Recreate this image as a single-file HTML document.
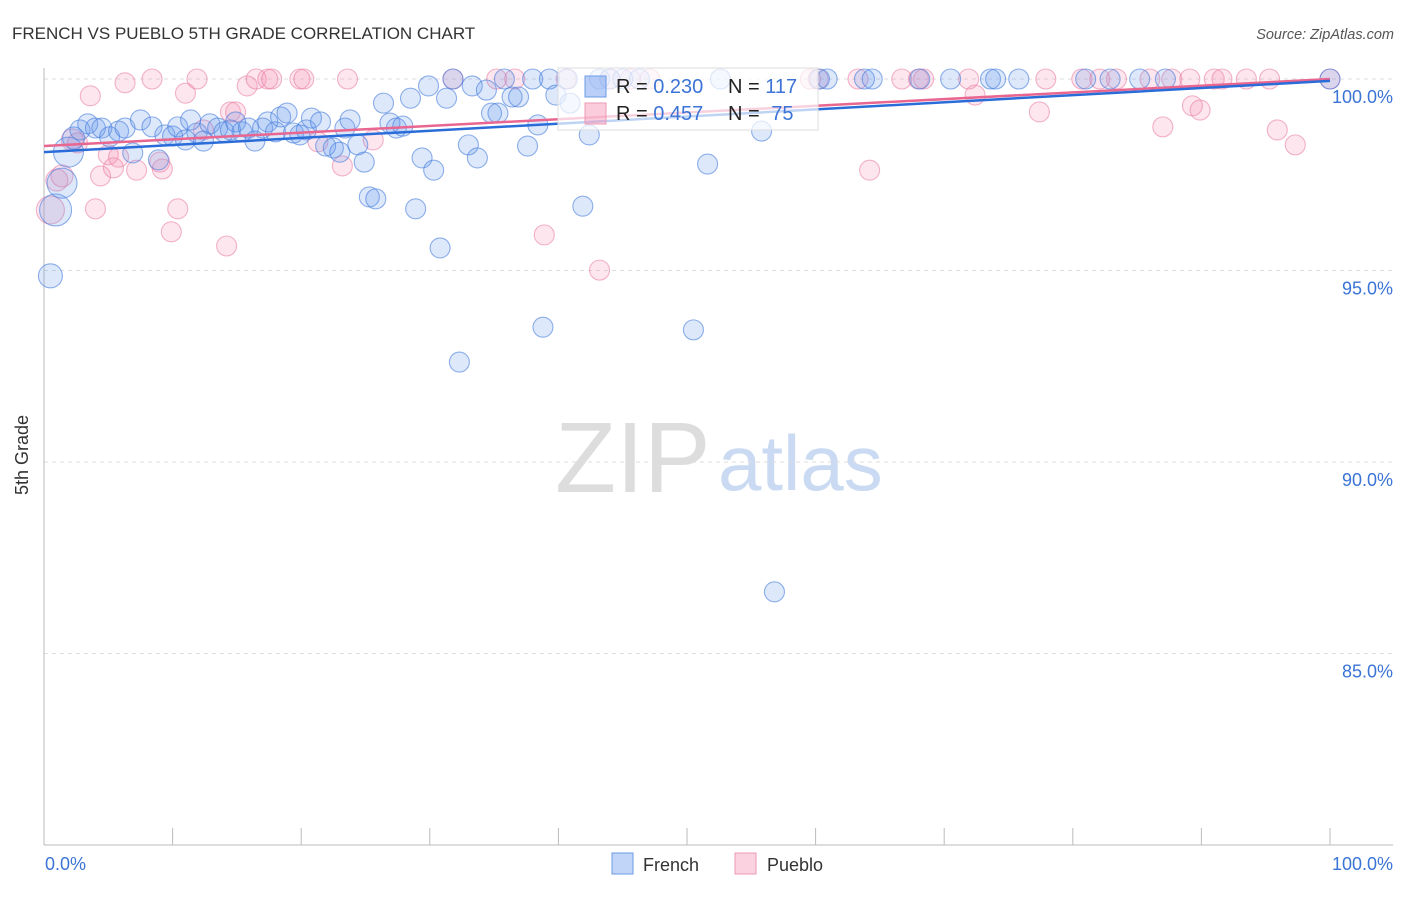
<!DOCTYPE html>
<html><head><meta charset="utf-8">
<style>
body{margin:0;background:#fff;font-family:"Liberation Sans",sans-serif;}
svg text{font-family:"Liberation Sans",sans-serif;}
</style></head>
<body>
<svg id="chart" width="1406" height="892" xmlns="http://www.w3.org/2000/svg">
<text x="12" y="39" font-size="17" fill="#333">FRENCH VS PUEBLO 5TH GRADE CORRELATION CHART</text>
<text x="1394" y="39" font-size="14.5" fill="#555" text-anchor="end" font-style="italic">Source: ZipAtlas.com</text>
<g>
<text x="555" y="492" font-size="100" font-family="Liberation Serif" fill="#ddd">ZIP</text>
<text x="718" y="490" font-size="78" fill="#c9daf2">atlas</text>
</g>
<g id="grid"></g>
<g id="axes"></g>
<g id="pts-pueblo"></g>
<g id="pts-french"></g>
<g id="trends"></g>
<text x="28" y="455" font-size="18" fill="#333" transform="rotate(-90 28 455)" text-anchor="middle">5th Grade</text>
<g>
<rect x="558" y="68" width="260" height="62" fill="rgba(255,255,255,0.7)" stroke="#ddd"/>
<rect x="585" y="76" width="21" height="21" fill="rgba(100,149,237,0.45)" stroke="#6d9be6"/>
<text x="616" y="93" font-size="20" fill="#222">R = <tspan fill="#3b74d6">0.230</tspan></text>
<text x="728" y="93" font-size="20" fill="#222">N = <tspan fill="#3b74d6">117</tspan></text>
<rect x="585" y="103" width="21" height="21" fill="rgba(244,143,177,0.45)" stroke="#ec9ab5"/>
<text x="616" y="120" font-size="20" fill="#222">R = <tspan fill="#3b74d6">0.457</tspan></text>
<text x="728" y="120" font-size="20" fill="#222">N = <tspan fill="#3b74d6" dx="6">75</tspan></text>
</g>
<g>
<rect x="612" y="853" width="21" height="21" fill="rgba(100,149,237,0.4)" stroke="#6d9be6"/>
<text x="643" y="871" font-size="18" fill="#333">French</text>
<rect x="735" y="853" width="21" height="21" fill="rgba(244,143,177,0.4)" stroke="#ec9ab5"/>
<text x="767" y="871" font-size="18" fill="#333">Pueblo</text>
</g>
</svg>
<script>
const yTicks=[100,95,90,85];
const yTickLabels=["100.0%","95.0%","90.0%","85.0%"];
const xTicks=[0,10,20,30,40,50,60,70,80,90,100];
const frenchX=[0.5,0.9,1.4,1.9,2.3,2.8,3.4,4.0,4.5,5.1,5.8,6.3,6.9,7.5,8.4,8.9,9.4,10.0,10.4,11.0,11.4,11.9,12.4,12.9,13.5,14.0,14.5,14.9,15.4,15.9,16.4,17.0,17.4,18.0,18.4,18.9,19.4,19.9,20.4,20.8,21.5,21.9,22.5,23.0,23.4,23.8,24.4,24.9,25.3,25.8,26.4,26.9,27.4,27.9,28.5,28.9,29.4,29.9,30.3,30.8,31.3,31.8,32.3,33.0,33.3,33.7,34.4,34.8,35.3,35.8,36.4,36.9,37.6,38.0,38.4,38.8,39.3,39.8,40.7,40.9,41.9,42.4,43.2,44.0,45.0,46.3,50.5,51.6,52.6,55.8,56.8,60.3,60.9,63.8,64.4,68.1,70.5,73.6,74.0,75.8,81.0,82.9,85.2,87.2,100];
const frenchY=[94.86,96.58,97.28,98.09,98.46,98.67,98.83,98.72,98.72,98.49,98.64,98.72,98.07,98.93,98.75,97.89,98.54,98.51,98.75,98.41,98.93,98.59,98.38,98.83,98.72,98.62,98.67,98.88,98.62,98.72,98.38,98.72,98.88,98.62,99.01,99.11,98.59,98.54,98.67,98.98,98.88,98.25,98.20,98.09,98.72,98.93,98.28,97.83,96.92,96.87,99.37,98.85,98.72,98.77,99.50,96.61,97.94,99.82,97.62,95.59,99.50,100,92.61,98.28,99.82,97.94,99.71,99.11,99.11,100,99.53,99.53,98.25,100,98.80,93.52,100,99.58,100,99.37,96.68,98.54,100,100,100,100,93.45,97.78,100,98.64,86.61,100,100,100,100,100,100,100,100,100,100,100,100,100,100];
const frenchSize=[12,16,15,15,11];
const puebloX=[0.5,1.0,1.4,2.2,2.6,3.6,4.0,4.4,5.0,5.4,5.8,6.3,7.2,8.4,9.0,9.2,9.9,10.4,11.0,11.9,12.4,14.2,14.5,14.9,15.8,16.5,17.4,17.7,19.9,20.2,21.3,23.2,23.6,25.6,31.8,35.2,36.6,38.9,40.6,43.2,44.0,45.6,47.1,59.6,60.2,63.3,64.2,66.7,68.0,68.4,71.9,72.4,77.4,77.9,80.7,82.1,83.4,86.0,87.0,87.7,89.1,89.3,89.9,91.0,91.6,93.5,95.3,95.9,97.3,100];
const puebloY=[96.58,97.36,97.47,98.41,98.33,99.56,96.61,97.47,98.02,97.68,97.96,99.90,97.62,100,97.83,97.65,96.01,96.61,99.63,100,98.67,95.64,99.14,99.14,99.82,100,100,100,100,100,98.36,97.73,100,98.41,100,100,100,95.93,100,95.01,100,100,100,100,100,100,97.62,100,100,100,100,99.58,99.14,100,100,100,100,100,98.75,100,100,99.30,99.19,100,100,100,100,98.67,98.28,100];
const puebloSize=[14,11,11,11];
const frenchTrend=[98.09,99.95];
const puebloTrend=[98.25,100];

const NS="http://www.w3.org/2000/svg";
const X0=44,X1=1330,Y100=79,PX=38.3;
function sx(v){return X0+(X1-X0)*v/100;}
function sy(v){return Y100+(100-v)*PX;}
function mk(tag,attrs,parent){const e=document.createElementNS(NS,tag);for(const k in attrs)e.setAttribute(k,attrs[k]);parent.appendChild(e);return e;}
const grid=document.getElementById('grid'),axes=document.getElementById('axes');
yTicks.forEach((t,i)=>{
  const l=mk('line',{x1:X0,x2:1393,y1:sy(t),y2:sy(t),stroke:'#ddd','stroke-dasharray':'4,4'},grid);
  
  
  const tx=mk('text',{x:1393,y:sy(t)+24,'font-size':18,fill:'#3b74d6','text-anchor':'end'},axes);
  tx.textContent=yTickLabels[i];
  
  
});
mk('line',{x1:X0,x2:X0,y1:68,y2:845,stroke:'#bbb'},axes);
mk('line',{x1:X0,x2:1393,y1:845,y2:845,stroke:'#bbb'},axes);
xTicks.forEach(t=>{
  const l=mk('line',{x1:sx(t),x2:sx(t),y1:828,y2:845,stroke:'#bbb'},axes);
  
  
});
const xl0=mk('text',{x:45,y:870,'font-size':18,fill:'#3b74d6'},axes);xl0.textContent='0.0%';


const xl1=mk('text',{x:1393,y:870,'font-size':18,fill:'#3b74d6','text-anchor':'end'},axes);xl1.textContent='100.0%';


function pts(xs,ys,sizes,g,fill,stroke,name){
  xs.forEach((v,i)=>{
    const c=mk('circle',{cx:sx(v),cy:sy(ys[i]),r:sizes[i]||10,fill:fill,stroke:stroke,'stroke-width':1.1},g);
    
    
  });
}
pts(puebloX,puebloY,puebloSize,document.getElementById('pts-pueblo'),'rgba(244,143,177,0.22)','rgba(232,120,160,0.55)','pueblo-point');
pts(frenchX,frenchY,frenchSize,document.getElementById('pts-french'),'rgba(100,149,237,0.22)','rgba(70,125,220,0.6)','french-point');
const tr=document.getElementById('trends');
const lp=mk('line',{x1:sx(0),x2:sx(100),y1:sy(puebloTrend[0]),y2:sy(puebloTrend[1]),stroke:'#e8668f','stroke-width':2.5},tr);


const lf=mk('line',{x1:sx(0),x2:sx(100),y1:sy(frenchTrend[0]),y2:sy(frenchTrend[1]),stroke:'#2a6dd9','stroke-width':2.5},tr);


</script>
</body></html>
